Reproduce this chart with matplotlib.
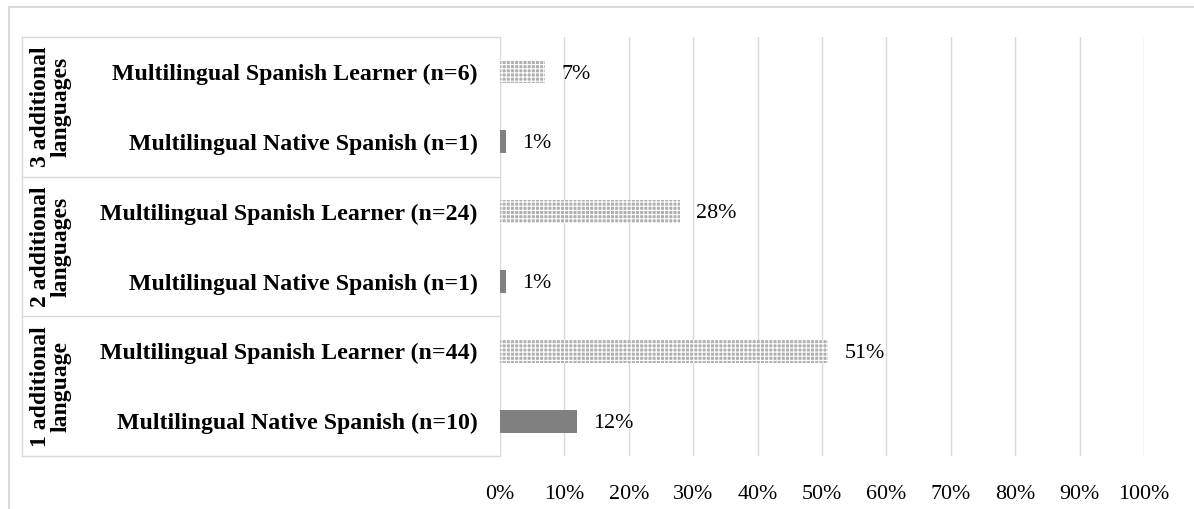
import matplotlib
matplotlib.use('Agg')
import matplotlib.pyplot as plt
from matplotlib.lines import Line2D
from matplotlib.transforms import blended_transform_factory

# data (bottom to top)
groups = ['1 additional\nlanguage', '2 additional\nlanguages', '3 additional\nlanguages']
categories = ['Multilingual Native Spanish (n=10)', 'Multilingual Spanish Learner (n=44)',
              'Multilingual Native Spanish (n=1)', 'Multilingual Spanish Learner (n=24)',
              'Multilingual Native Spanish (n=1)', 'Multilingual Spanish Learner (n=6)']
values = [12, 51, 1, 28, 1, 7]
is_learner = [False, True, False, True, False, True]
xticks = [0, 10, 20, 30, 40, 50, 60, 70, 80, 90, 100]

plt.rcParams['font.family'] = ['Liberation Serif', 'DejaVu Serif']
plt.rcParams['hatch.linewidth'] = 0.8

W, H = 1194, 509
fig = plt.figure(figsize=(W / 100, H / 100), dpi=100)
# plot area in pixels: x 500..1144, y 37..456 (from top)
ax = fig.add_axes([500 / W, (H - 456) / H, 644 / W, (456 - 37) / H])

ypos = list(range(len(values)))
for y, v, learner in zip(ypos, values, is_learner):
    if learner:
        ax.barh(y, v, height=0.33, color='#b0b0b0', edgecolor='white', linewidth=0,
                hatch='++++', zorder=3)
    else:
        ax.barh(y, v, height=0.33, color='#808080', linewidth=0, zorder=3)
    ax.annotate(f'{v}%', (v, y), xytext=(11.5, -1.5), textcoords='offset points',
                va='center', ha='left', fontsize=15.8)

ax.set_xlim(0, 100)
ax.set_ylim(-0.5, len(values) - 0.5)
ax.set_xticks(xticks)
ax.set_xticklabels([f'{t}%' for t in xticks], fontsize=15.8)
ax.set_yticks(ypos)
ax.set_yticklabels(categories, fontsize=17.2, fontweight='bold', va='center_baseline')
ax.tick_params(axis='x', length=0, pad=21)
ax.tick_params(axis='y', length=0, pad=16)
ax.grid(axis='x', color='#d9d9d9', linewidth=1.0)
ax.set_axisbelow(True)
for s in ax.spines.values():
    s.set_visible(False)

# category table on the left
tr = blended_transform_factory(fig.transFigure, ax.transData)
x_left = 22 / W
x_right = 500 / W
for yb in [-0.5, 1.5, 3.5, 5.5]:
    fig.add_artist(Line2D([x_left, x_right], [yb, yb], transform=tr,
                          color='#d9d9d9', linewidth=1.0))
fig.add_artist(Line2D([x_left, x_left], [-0.5, 5.5], transform=tr,
                      color='#d9d9d9', linewidth=1.0))
for i, g in enumerate(groups):
    fig.text(51 / W, 2 * i + 0.5, g, transform=tr, rotation=90, ha='center', va='center',
             multialignment='center', linespacing=1.0, fontsize=17, fontweight='bold')

# outer chart frame (cropped)
fig.add_artist(Line2D([9 / W, 9 / W], [0, (H - 7) / H], transform=fig.transFigure,
                      color='#d9d9d9', linewidth=1.5))
fig.add_artist(Line2D([9 / W, 1], [(H - 7) / H, (H - 7) / H], transform=fig.transFigure,
                      color='#d9d9d9', linewidth=1.5))

fig.savefig('out.png', dpi=100)
